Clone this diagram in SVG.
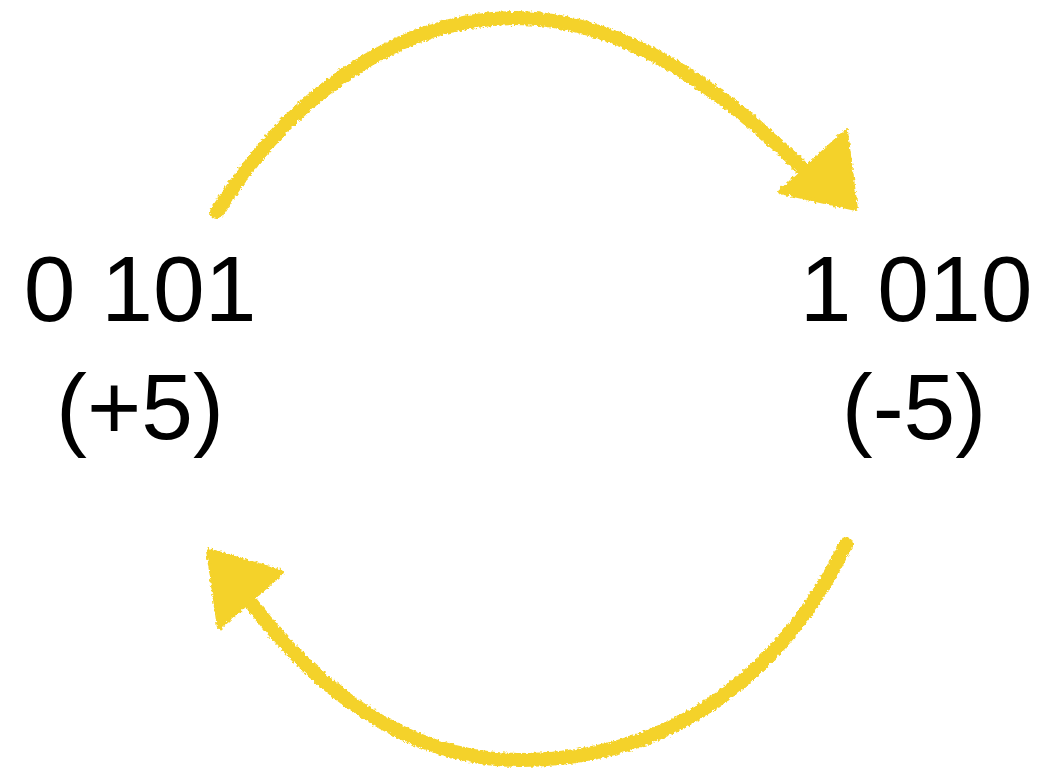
<svg xmlns="http://www.w3.org/2000/svg" width="1042" height="774" viewBox="0 0 1042 774">
<style>
.lbl{font-family:"Liberation Sans",Arial,sans-serif;font-size:93px;fill:#000;text-anchor:middle}
.arc{fill:none;stroke:#F4D22B;stroke-width:14;stroke-linecap:round;stroke-linejoin:round}
.head{fill:#F4D22B;stroke:#F4D22B;stroke-width:4;stroke-linejoin:round}
</style>
<defs>
<filter id="chalk" x="-10%" y="-10%" width="120%" height="120%">
<feTurbulence type="fractalNoise" baseFrequency="0.35" numOctaves="2" seed="3" result="n"/>
<feDisplacementMap in="SourceGraphic" in2="n" scale="5" xChannelSelector="R" yChannelSelector="G"/>
</filter>
</defs>
<rect width="1042" height="774" fill="#fff"/>
<g id="connectors" filter="url(#chalk)">
<g id="arrow-top">
<path class="arc" d="M217,212 C290,95 400,18 515,18 C630,18 735,100 810,176"/>
<polygon class="head" points="780,192 846,131 856,209"/>
</g>
<g id="arrow-bottom">
<path class="arc" d="M846,544 C800,640 700,760 520,760 C400,760 310,680 252,604"/>
<polygon class="head" points="208,550 283,572 219,628"/>
</g>
</g>
<g id="node-pos">
<text class="lbl" x="140" y="321">0 101</text>
<text class="lbl" x="140" y="439">(+5)</text>
</g>
<g id="node-neg">
<text class="lbl" x="916" y="321">1 010</text>
<text class="lbl" x="914" y="439">(-5)</text>
</g>
</svg>
